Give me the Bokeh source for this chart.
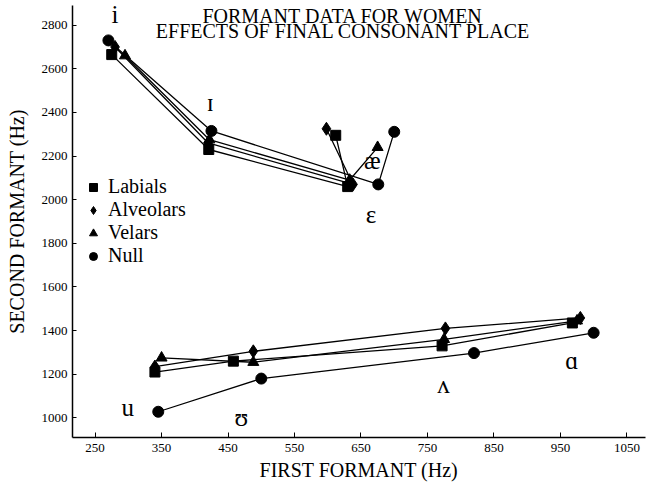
from bokeh.plotting import figure
from bokeh.models import Range1d, FixedTicker, Legend, LegendItem, Label, ColumnDataSource
from bokeh.core.properties import value
from bokeh.embed import file_html
from bokeh.resources import INLINE

# ---- data (Hz) ----
front_vowels = ["i", "ɪ", "ɛ", "æ"]
back_vowels = ["u", "ʊ", "ʌ", "ɑ"]

labials_front_f1 = [275, 421, 630, 612]
labials_front_f2 = [2665, 2230, 2060, 2295]
alveolars_front_f1 = [280, 420, 638, 598]
alveolars_front_f2 = [2700, 2260, 2070, 2325]
velars_front_f1 = [295, 422, 633, 675]
velars_front_f2 = [2660, 2275, 2090, 2240]
null_front_f1 = [270, 425, 676, 700]
null_front_f2 = [2730, 2315, 2070, 2311]

labials_back_f1 = [340, 458, 772, 968]
labials_back_f2 = [1210, 1260, 1330, 1435]
alveolars_back_f1 = [340, 488, 777, 980]
alveolars_back_f2 = [1235, 1305, 1410, 1458]
velars_back_f1 = [350, 488, 775, 975]
velars_back_f2 = [1275, 1255, 1360, 1445]
null_back_f1 = [345, 500, 820, 1000]
null_back_f2 = [1028, 1180, 1297, 1390]

series_names = ["Labials", "Alveolars", "Velars", "Null"]

label_vowels = ["i", "ɪ", "æ", "ɛ", "u", "ʊ", "ʌ", "ɑ"]
label_f1 = [280, 423, 667, 665, 299, 470, 774, 967]
label_f2 = [2850, 2446, 2178, 1934, 1047, 1002, 1155, 1261]

x_ticks = [250, 350, 450, 550, 650, 750, 850, 950, 1050]
y_ticks = [1000, 1200, 1400, 1600, 1800, 2000, 2200, 2400, 2600, 2800]

title_lines = ["FORMANT DATA FOR WOMEN", "EFFECTS OF FINAL CONSONANT PLACE"]

FONT = "Liberation Serif"

p = figure(width=650, height=486,
           x_range=Range1d(216, 1078), y_range=Range1d(910, 2890),
           output_backend="svg", toolbar_location=None,
           min_border_left=72, min_border_right=5,
           min_border_top=5, min_border_bottom=49)
p.grid.visible = False
p.outline_line_color = None
p.background_fill_color = "white"
p.border_fill_color = "white"

for ax in (p.xaxis, p.yaxis):
    ax.axis_line_color = "black"
    ax.axis_line_width = 1.5
    ax.major_tick_line_color = "black"
    ax.minor_tick_line_color = None
    ax.major_tick_out = 0
    ax.major_label_text_font = FONT
    ax.major_label_text_font_size = "13px"
    ax.major_label_text_color = "black"
    ax.axis_label_text_font = FONT
    ax.axis_label_text_font_size = "20px"
    ax.axis_label_text_font_style = "normal"
    ax.axis_label_text_color = "black"

p.xaxis.ticker = FixedTicker(ticks=x_ticks)
p.yaxis.ticker = FixedTicker(ticks=y_ticks)
p.xaxis.major_tick_in = 5
p.yaxis.major_tick_in = 4
p.xaxis.major_label_standoff = 6
p.yaxis.major_label_standoff = 5
p.xaxis.axis_label = "FIRST FORMANT (Hz)"
p.yaxis.axis_label = "SECOND FORMANT (Hz)"
p.xaxis.axis_label_standoff = 4
p.yaxis.axis_label_standoff = 11

markers = ["square", "diamond", "triangle", "circle"]
sizes = [10, 13, 11, 11]
fronts = [(labials_front_f1, labials_front_f2), (alveolars_front_f1, alveolars_front_f2),
          (velars_front_f1, velars_front_f2), (null_front_f1, null_front_f2)]
backs = [(labials_back_f1, labials_back_f2), (alveolars_back_f1, alveolars_back_f2),
         (velars_back_f1, velars_back_f2), (null_back_f1, null_back_f2)]

legend_items = []
for name, mk, sz, (ff1, ff2), (bf1, bf2) in zip(series_names, markers, sizes, fronts, backs):
    p.line(ff1, ff2, line_color="black", line_width=1.3)
    p.line(bf1, bf2, line_color="black", line_width=1.3)
    r1 = p.scatter(ff1, ff2, marker=mk, size=sz, fill_color="black", line_color="black")
    p.scatter(bf1, bf2, marker=mk, size=sz, fill_color="black", line_color="black")
    legend_items.append(LegendItem(label=name, renderers=[r1]))

src = ColumnDataSource(dict(x=label_f1, y=label_f2, t=label_vowels))
p.text(x="x", y="y", text="t", source=src, text_font=value(FONT),
       text_font_size="25px", text_align="center", text_baseline="middle",
       text_color="black")

title_y = [2840, 2771]
for line, ty in zip(title_lines, title_y):
    p.add_layout(Label(x=623, y=ty, text=line, text_align="center",
                       text_baseline="middle", text_font=FONT,
                       text_font_size="20px", text_color="black"))

legend = Legend(items=legend_items, location=(11, 170), orientation="vertical",
                label_text_font=FONT, label_text_font_size="20px",
                label_text_color="black", label_height=20, glyph_height=20,
                glyph_width=20, spacing=-1, padding=0, margin=0,
                border_line_color=None, background_fill_alpha=0)
p.add_layout(legend)

open("out.html", "w").write(file_html(p, INLINE))
